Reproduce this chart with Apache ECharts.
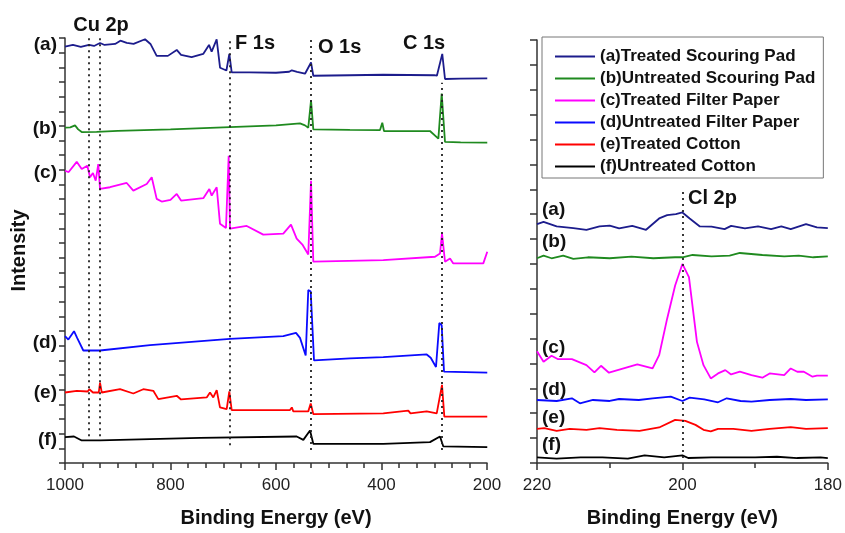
<!DOCTYPE html>
<html>
<head>
<meta charset="utf-8">
<script src="https://cdn.jsdelivr.net/npm/echarts@6/dist/echarts.min.js"></script>
<style>
  html, body { margin: 0; padding: 0; background: #fff; }
  #chart { width: 845px; height: 533px; }
</style>
</head>
<body>
<div id="chart"></div>
<script>
// series names (legend)
const names = ['(a)Treated Scouring Pad', '(b)Untreated Scouring Pad', '(c)Treated Filter Paper',
  '(d)Untreated Filter Paper', '(e)Treated Cotton', '(f)Untreated Cotton']
const colors = ['#1c1c8c', '#1f8a1f', '#ff00ff', '#0a0aff', '#ff0000', '#000000']

// survey spectra [binding energy, intensity (offset, a.u.)]
const surveyA = [[1000,419.3],[985,421],[970,419],[954.5,421],[945,420],[933.6,423],[925,421],[905,422],[895,425.3],[883,423],[870,422],[848.3,426.7],[838,422],[826.2,410],[805,410],[788.2,416],[780,411],[760,408.7],[738,412],[727,421],[722,414.3],[712.5,426.7],[706,398],[694,395.3],[688.5,412],[684,393.3],[650,393.3],[600,393],[575,394],[570,395.5],[560,394],[545,392],[533.6,403.3],[529.3,390],[460,390.5],[396.6,391],[300,390.5],[295,390],[284.8,412],[279.6,386.7],[250,387],[199.5,387.3]]
const surveyB = [[1000,337.7],[990,338],[981,340],[975,336],[968.3,333.3],[940,333.5],[900,334.5],[800,336],[700,338],[600,340],[554.5,342],[545,340],[538.8,337.7],[533.6,365.3],[529.3,336],[460,335.5],[402.8,335.3],[398.5,342.7],[395.3,334.3],[320,334.3],[308.1,334.3],[292.2,326.7],[285.9,372],[279.6,323.3],[250,322.9],[199.5,322.7]]
const surveyC = [[1000,294.3],[993,293],[977.8,303.3],[968.3,296],[957.7,299.3],[952.6,287.7],[947,292],[941.8,284.3],[936.9,301],[933.6,276],[914.7,277.7],[883,282],[870.5,274.3],[845.1,281],[835.6,287.7],[826.2,266],[816.7,263.3],[800,265],[788.2,271],[780,264.3],[737.8,266.7],[726.4,276],[721.9,269.3],[712.4,277.7],[706.2,241],[694.8,236.7],[689.7,309.3],[687.2,236],[655.5,238.7],[624.1,230],[586.2,231],[571.6,240],[560.8,226],[550,220],[538.8,210],[533.6,284.3],[529.3,202.7],[396.6,204.3],[298.6,207.7],[289.1,211],[285.3,231],[279.6,202.7],[270.1,206],[263.9,201],[207,201],[199.5,212.7]]
const surveyD = [[1000,127.7],[993.7,124.3],[982.9,132.7],[977,126],[965.3,113.3],[933.6,113.3],[838.9,118.7],[687.2,125],[586.2,127.7],[562.1,131],[554.5,126],[543.7,108.3],[538.8,174.3],[534.2,172.7],[527.9,103.3],[459.7,105.3],[396.6,106.7],[314.3,109.3],[306.7,106],[296.7,96.7],[290.4,141],[285.9,138.7],[281.5,92],[199.5,91]]
const surveyE = [[1000,71],[977.8,72.7],[957,72],[953.9,74.3],[947,71],[936,71],[933.6,81],[930.4,71],[895.7,74.3],[870.5,70],[851.6,74.3],[832.6,72.7],[823.1,64.3],[788.2,67.7],[780,64],[731.4,66],[725.1,71],[718.9,66],[712.4,73.3],[706.2,56],[693.5,54.3],[688.5,72],[684,53.3],[573.5,53.3],[570,56],[567.2,52],[538.8,52],[534.2,60],[529.3,49.3],[396.6,50],[349.2,52.7],[345,50],[314.3,52],[295.3,50],[285.3,78.7],[280.9,46.7],[199.5,46.7]]
const surveyF = [[1000,26],[982.9,26.7],[968.3,22.7],[933.6,22.7],[744.1,25.3],[560.8,26.7],[548.2,23.3],[535.5,32.7],[529.3,19.3],[396.6,19.3],[308.1,21],[289.1,26.7],[282.8,16.7],[199.5,16]]

// Cl 2p region
const clA = [[220,240],[219.1,242.3],[217.3,237.7],[215,236],[213.2,234.3],[211.4,237.7],[210,238.5],[208.7,235.7],[206.9,238.3],[205,234.3],[203.2,245.7],[202.1,249],[200.9,250],[200,251.7],[199,245.7],[197.6,237.7],[196,237.5],[194.2,235],[193.3,238.3],[191.4,235.7],[189.6,237.7],[187.8,235],[186.4,237.7],[185.1,235],[183,240],[181.5,236.7],[180,236]]
const clB = [[220,205.7],[219.1,208.3],[218,205.7],[216.4,208.3],[215,205],[213,206.7],[210,205.7],[207,207.3],[204,205.7],[201,206.7],[200,206.7],[198.6,209],[196,207.7],[193.5,208.3],[192.1,211],[189,209],[186,207.7],[184,208.3],[182,206.7],[180,207.7]]
const clC = [[220,112.3],[219.1,101.7],[218,107.7],[217.1,104.3],[215.2,104.3],[213.2,98.3],[212.1,91],[211.2,97.7],[210.1,90.7],[206.2,99],[204.1,95],[203.2,108.3],[202.1,145],[201,178.3],[200,200],[199.1,186.7],[198,121.7],[197.1,98.3],[196.1,85],[195.1,90],[194.1,93.3],[193.3,89],[192.1,91.7],[190.5,88.3],[189,85.7],[188,90],[186,88.3],[185.1,95],[184.2,91.7],[183.3,91.7],[182.1,86.7],[181.5,87.7],[180,87.7]]
const clD = [[220,63.3],[217.3,62.3],[215.2,65],[214.1,60],[212.3,63.3],[210,62.3],[208.7,64.3],[206,63.3],[204.1,65],[201.6,66.7],[200,62.3],[199,65.7],[197,64],[195.1,61],[193.9,65],[192,62.3],[190.5,61.7],[188,63.3],[185.1,64.3],[183,63.3],[180,64]]
const clE = [[220,34.3],[219,35],[217.3,32.3],[215.5,34.3],[213.2,33.3],[211.4,35],[209,33.3],[205.9,32.3],[203.2,35.7],[201,43.3],[199.6,42.3],[198.2,38.3],[197.1,33.3],[196.1,31.7],[195.1,34.3],[193,34.3],[190.5,32.3],[188,34.3],[185.1,36],[183,34.3],[180,35]]
const clF = [[220,5.7],[217.3,4.3],[214,5.7],[211,5.7],[207.5,4.3],[205.2,7.7],[202.5,5.7],[200,7.7],[199.2,5],[196,5.7],[190,5.7],[187,6.3],[184.2,5],[181,5.7],[180,5]]

// peak reference lines [energy, from, to]
const surveyPeaks = [[954.5, 27, 428], [933.6, 27, 428], [688.6, 18, 428], [533.6, 13, 428], [285.3, 13, 383]]
const clPeaks = [[200, 5, 275]]

const FONT = '"Liberation Sans", Arial, sans-serif'

const myChart = echarts.init(document.getElementById('chart'))

function peakLines(list) {
  return {
    silent: true,
    symbol: ['none', 'none'],
    label: {show: false},
    lineStyle: {color: '#222', type: [2, 4], width: 1.8},
    data: list.map(p => [{coord: [p[0], p[1]]}, {coord: [p[0], p[2]]}])
  }
}

function xAxisOf(idx, min, max, step, minor) {
  return {
    type: 'value', gridIndex: idx, min: min, max: max, interval: step, inverse: true,
    name: 'Binding Energy (eV)', nameLocation: 'middle', nameGap: 45,
    nameTextStyle: {fontFamily: FONT, fontWeight: 'bold', fontSize: 20, color: '#111'},
    axisLine: {lineStyle: {color: '#333', width: 1.5}},
    axisTick: {length: 7, lineStyle: {color: '#333', width: 1.5}},
    minorTick: {show: true, splitNumber: minor, length: 5, lineStyle: {color: '#333', width: 1.5}},
    axisLabel: {fontFamily: FONT, fontSize: 17, color: '#222', margin: 14,
      showMinLabel: true, showMaxLabel: true, formatter: v => String(v)},
    splitLine: {show: false}
  }
}

const leftSeries = [surveyA, surveyB, surveyC, surveyD, surveyE, surveyF].map((d, i) => ({
  name: names[i], type: 'line', xAxisIndex: 0, yAxisIndex: 0, data: d,
  showSymbol: false, symbol: 'none', lineStyle: {width: 1.8, color: colors[i]}, itemStyle: {color: colors[i]},
  markLine: i === 5 ? peakLines(surveyPeaks) : undefined
}))
const rightSeries = [clA, clB, clC, clD, clE, clF].map((d, i) => ({
  name: names[i], type: 'line', xAxisIndex: 1, yAxisIndex: 1, data: d,
  showSymbol: false, symbol: 'none', lineStyle: {width: 1.8, color: colors[i]}, itemStyle: {color: colors[i]},
  markLine: i === 5 ? peakLines(clPeaks) : undefined
}))

const txt = (t, x, y, align, size) => ({
  type: 'text', x: x, y: y, silent: true,
  style: {text: t, fill: '#111', font: 'bold ' + (size || 19) + 'px ' + FONT, textAlign: align || 'right', textVerticalAlign: 'middle'}
})

const option = {
  animation: false,
  backgroundColor: '#fff',
  grid: [
    {left: 65, right: 358, top: 38, bottom: 67},
    {left: 537, right: 14, top: 40, bottom: 68}
  ],
  legend: {
    data: names, orient: 'vertical', left: 542, top: 37,
    icon: 'rect', itemWidth: 40, itemHeight: 2, itemGap: 5,
    padding: [11, 8, 3, 13],
    borderColor: '#777', borderWidth: 1,
    textStyle: {fontFamily: FONT, fontWeight: 'bold', fontSize: 17, color: '#111'}
  },
  xAxis: [xAxisOf(0, 200, 1000, 200, 6), xAxisOf(1, 180, 220, 20, 2)],
  yAxis: [
    {type: 'value', gridIndex: 0, min: 0, max: 428, interval: 428 / 29,
     name: 'Intensity', nameLocation: 'middle', nameGap: 36,
     nameTextStyle: {fontFamily: FONT, fontWeight: 'bold', fontSize: 20, color: '#111'},
     axisLine: {show: true, lineStyle: {color: '#333', width: 1.5}},
     axisTick: {show: true, length: 6, lineStyle: {color: '#333', width: 1.5}},
     axisLabel: {show: false}, splitLine: {show: false}},
    {type: 'value', gridIndex: 1, min: 0, max: 425, interval: 25,
     axisLine: {show: true, lineStyle: {color: '#333', width: 1.5}},
     axisTick: {show: true, length: 7, lineStyle: {color: '#333', width: 1.5}},
     axisLabel: {show: false}, splitLine: {show: false}}
  ],
  graphic: [
    txt('(a)', 57, 45), txt('(b)', 57, 128.5), txt('(c)', 57, 173),
    txt('(d)', 57, 342.5), txt('(e)', 57, 392.5), txt('(f)', 57, 439.5),
    txt('Cu 2p', 101, 25, 'center', 20), txt('F 1s', 235, 43, 'left', 20),
    txt('O 1s', 318, 47, 'left', 20), txt('C 1s', 403, 43, 'left', 20),
    txt('(a)', 542, 210, 'left'), txt('(b)', 542, 241.5, 'left'), txt('(c)', 542, 347.5, 'left'),
    txt('(d)', 542, 390, 'left'), txt('(e)', 542, 418, 'left'), txt('(f)', 542, 445, 'left'),
    txt('Cl 2p', 688, 198, 'left', 20)
  ],
  series: leftSeries.concat(rightSeries)
}
myChart.setOption(option)
</script>
</body>
</html>
